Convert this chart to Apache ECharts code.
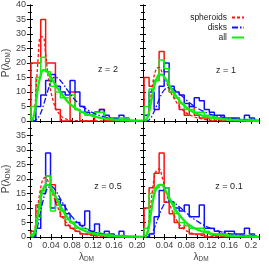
<!DOCTYPE html>
<html><head><meta charset="utf-8">
<script src="https://cdn.jsdelivr.net/npm/echarts@6/dist/echarts.min.js"></script>
<style>html,body{margin:0;padding:0;background:#fff}#c{width:269px;height:269px}</style>
</head><body><div id="c"></div>
<script>
// ---- data ----
const binEdges = [0.002,0.0113,0.0206,0.0299,0.0392,0.0485,0.0578,0.0671,0.0764,0.0857,0.095,0.1043,0.1136,0.1229,0.1322,0.1415,0.1508,0.1601,0.1694,0.1787,0.188,0.1973,0.2066];

const redHistZ2   = [20,20,35,20,20,4,0,0,10,4,0,0,0,3,4,0,0,0,0,0,0,0];
const blueHistZ2  = [0,5,9,14,16,12,10,9,14,10,5,3,2,3,4,2,1,1,2,1,0,0];
const greenHistZ2 = [5,15,22,17,12,10,8,8,9,4,3,2,2,3,3,1,1,1,1,1,0,0];

const redHistZ1   = [15,12,14,24,17,10,8,4,2,5,2,1,1,0,1,0,1,0,0,0,0,0];
const blueHistZ1  = [2,10,4,12,20,12,10,9,6,5,8,7,4,3,2,2,1,1,1,0,2,1];
const greenHistZ1 = [5,11,14,21,18,10,8,6,4,4,3,3,2,1.5,1,1,1,0.5,0.5,0.5,0.5,0.5];

const redHistZ05   = [2,11,16,21,18,12,7,4,3,2,1,1,0.5,0.5,0.5,0,0.5,0,0,0,0,0];
const blueHistZ05  = [0,3,15,29,10,13,11,8,5,5,4,9,2,4.5,1,2,1,0,2,0,0,0];
const greenHistZ05 = [1,7,16,21,9,11,9,6,5,3,3,2.5,1.5,1.5,1,1,0.5,0.5,0.5,0.3,0.3,0];

const redHistZ01   = [10,17,22,29,12,8,5,3,4,1,1,1,0,0.5,0.5,0,0,0,0.3,0,0,0];
const blueHistZ01  = [0,1,7,16,17,12,10,9,11,7,7,11,3,3,2,1,2,2,1,1,3,1];
const greenHistZ01 = [3,15,17,18,17,12,8,5,4,3,3,3,2,1,1,1,1,0.5,0.5,0.5,0.5,0.5];

const curveLambda = [0.003,0.006,0.01,0.015,0.02,0.025,0.03,0.035,0.04,0.045,0.05,0.06,0.07,0.08,0.09,0.1,0.12,0.14,0.16,0.18,0.2,0.215];

const redFitZ2   = [0,0.5,6,20,29,29,23,15,10,6.5,4,1.6,0.6,0.2,0.1,0,0,0,0,0,0,0];
const blueFitZ2  = [0,0,0.2,1,2.5,5,8,11,13.5,15,15,13.5,11,8.5,6.5,5,2.8,1.5,0.8,0.4,0.2,0.1];
const greenFitZ2 = [0,0.8,4,11,15.5,17.5,17.5,16.5,15,13.5,12,9.5,7,5.3,4,3,1.7,0.9,0.5,0.3,0.15,0.1];

const redFitZ1   = [0,0.5,3,9,15,18,18.5,17,15,12.7,10.5,7,4.5,2.8,1.8,1.1,0.4,0.15,0.05,0,0,0];
const blueFitZ1  = [0,0,0.2,1.2,3,5.2,7.5,9.5,10.8,11.5,11.5,10.5,9,7.3,5.8,4.5,2.7,1.6,0.9,0.5,0.3,0.2];
const greenFitZ1 = [0,0.4,2,6.5,11.5,14.5,16,16,15,13.6,12,9,6.5,4.8,3.4,2.5,1.3,0.7,0.4,0.2,0.1,0.05];

const redFitZ05   = [0,0.5,3.5,10.5,16.5,20,20.5,19,16.5,14,11.5,7.5,4.8,3,1.9,1.2,0.5,0.2,0.1,0,0,0];
const blueFitZ05  = [0,0,0.8,4,8.5,12.5,15.5,17,17.5,17,15.8,12.5,9.5,7,5,3.6,1.8,0.9,0.45,0.2,0.1,0.05];
const greenFitZ05 = [0,0.4,2.2,7.5,13,16.5,18,18,17,15.3,13.5,10,7,5,3.5,2.4,1.2,0.6,0.3,0.15,0.1,0.05];

const redFitZ01   = [0,0.5,4,12,19.5,23,23.5,21,17.5,14,11,6.5,3.8,2.2,1.3,0.8,0.3,0.1,0,0,0,0];
const blueFitZ01  = [0,0,0.1,0.8,2.5,5,7.5,9.8,11.5,12.4,12.5,11.5,10,8.3,6.8,5.5,3.4,2,1.2,0.7,0.4,0.3];
const greenFitZ01 = [0,0.4,2.5,8.5,14,17,18,18,16.5,14.8,13,9.5,7,5,3.6,2.6,1.4,0.7,0.4,0.2,0.1,0.05];

const xTicks = [0,0.04,0.08,0.12,0.16,0.2];
const yTicks = [0,5,10,15,20,25,30,35,40];
const redshiftLabels = ['z = 2','z = 1','z = 0.5','z = 0.1'];
const seriesNames = ['spheroids','disks','all'];

// ---- build ----
const panels = [
  {hist:[redHistZ2,blueHistZ2,greenHistZ2], fit:[redFitZ2,blueFitZ2,greenFitZ2]},
  {hist:[redHistZ1,blueHistZ1,greenHistZ1], fit:[redFitZ1,blueFitZ1,greenFitZ1]},
  {hist:[redHistZ05,blueHistZ05,greenHistZ05], fit:[redFitZ05,blueFitZ05,greenFitZ05]},
  {hist:[redHistZ01,blueHistZ01,greenHistZ01], fit:[redFitZ01,blueFitZ01,greenFitZ01]}
];
const colors = ['#ff1010','#1010ff','#10ee10'];
const fitStyles = [
  {width:1.3, type:[3,2]},
  {width:1.3, type:[6,2,1.5,2]},
  {width:2.3, type:'solid'}
];
const FONT = 'Liberation Sans';
const gridPos = [
  {left:27, top:5}, {left:143, top:5}, {left:27, top:121}, {left:143, top:121}
];
const grid = gridPos.map(g => ({left:g.left, top:g.top, width:116, height:116, show:false}));

function steps(edges, h){
  const pts = [[edges[0],0]];
  for (let i=0;i<h.length;i++){ pts.push([edges[i],h[i]]); pts.push([edges[i+1],h[i]]); }
  pts.push([edges[h.length],0]);
  return pts;
}
const sub = {
  a:{fontFamily:FONT, fontSize:10, color:'#444'},
  s:{fontFamily:FONT, fontSize:6.5, color:'#444', verticalAlign:'bottom', padding:[5,0,0,0]}
};
const xAxis = [], yAxis = [], series = [];
const tickCommon = {axisLine:{show:true, lineStyle:{color:'#000', width:1}},
  axisTick:{show:true, inside:true, length:3, lineStyle:{color:'#000'}},
  minorTick:{show:true, splitNumber:2, length:2, lineStyle:{color:'#000'}},
  splitLine:{show:false}, minorSplitLine:{show:false}};
for (let i=0;i<4;i++){
  const bottom = i>=2, left = i%2===0;
  xAxis.push(Object.assign({gridIndex:i, type:'value', min:xTicks[0], max:0.215, interval:xTicks[1]-xTicks[0], position:'bottom',
    axisLabel:{show:bottom, fontFamily:FONT, fontSize:9, color:'#444', margin:4,
      formatter:v=>String(+v.toFixed(2)), showMaxLabel:false},
    name: bottom ? '{a|λ}{s|DM}' : '', nameLocation:'middle', nameGap:14,
    nameTextStyle:{rich:sub}}, JSON.parse(JSON.stringify(tickCommon))));
  xAxis.push(Object.assign({gridIndex:i, type:'value', min:xTicks[0], max:0.215, interval:xTicks[1]-xTicks[0], position:'top',
    axisLabel:{show:false}}, JSON.parse(JSON.stringify(tickCommon))));
  yAxis.push(Object.assign({gridIndex:i, type:'value', min:yTicks[0], max:yTicks[yTicks.length-1], interval:yTicks[1]-yTicks[0], position:'left',
    axisLabel:{show:left, fontFamily:FONT, fontSize:9, color:'#444', margin:4, showMaxLabel:!bottom},
    name: left ? '{a|P(λ}{s|DM}{a|)}' : '', nameLocation:'middle', nameGap:12, nameRotate:90,
    nameTextStyle:{rich:sub}}, JSON.parse(JSON.stringify(tickCommon))));
  yAxis.push(Object.assign({gridIndex:i, type:'value', min:yTicks[0], max:yTicks[yTicks.length-1], interval:yTicks[1]-yTicks[0], position:'right',
    axisLabel:{show:false}}, JSON.parse(JSON.stringify(tickCommon))));
  const p = panels[i];
  for (let k=0;k<3;k++){
    series.push({type:'line', name:seriesNames[k]+' hist', xAxisIndex:2*i, yAxisIndex:2*i,
      data:steps(binEdges, p.hist[k]), symbol:'none', silent:true, animation:false,
      lineStyle:{color:colors[k], width:1.5}, itemStyle:{color:colors[k]}});
  }
  for (let k=0;k<3;k++){
    series.push({type:'line', name:seriesNames[k], xAxisIndex:2*i, yAxisIndex:2*i,
      data:curveLambda.map((x,j)=>[x, p.fit[k][j]]), symbol:'none', smooth:0.35, silent:true, animation:false,
      lineStyle:Object.assign({color:colors[k]}, fitStyles[k]), itemStyle:{color:colors[k]}});
  }
}
const zPos = [[108,70],[226,71],[108,187],[229,187]];
const graphic = redshiftLabels.map((t,i)=>({type:'text', x:zPos[i][0], y:zPos[i][1],
  style:{text:t, fontFamily:FONT, fontSize:9, fill:'#222', align:'center', verticalAlign:'middle'}}));

const chart = echarts.init(document.getElementById('c'), null, {renderer:'canvas'});
chart.setOption({
  animation:false,
  grid, xAxis, yAxis, series, graphic,
  legend:{data:seriesNames, orient:'vertical', align:'right', right:19, top:8,
    itemWidth:12, itemHeight:6, itemGap:1,
    itemStyle:{opacity:0, borderWidth:0},
    textStyle:{fontFamily:FONT, fontSize:8.5, color:'#222', padding:[0,0,0,0], lineHeight:7},
    selectedMode:false}
});
</script></body></html>
